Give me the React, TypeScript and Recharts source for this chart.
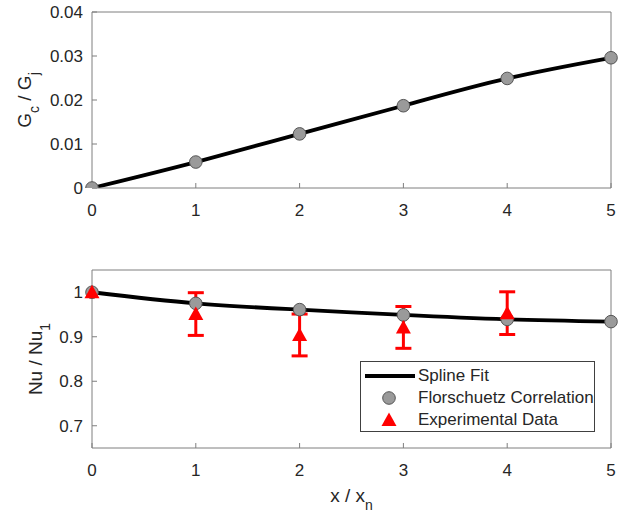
import React from "react";
import {
  ComposedChart,
  Line,
  Scatter,
  XAxis,
  YAxis,
  ErrorBar,
  Legend,
} from "recharts";

// x / x_n positions
const xPositions = [0, 1, 2, 3, 4, 5];
const xTicks = [0, 1, 2, 3, 4, 5];

// top panel: G_c / G_j
const massFluxRatio = [0, 0.0059, 0.0123, 0.0187, 0.0249, 0.0296];
const gTicks = [0, 0.01, 0.02, 0.03, 0.04];

// bottom panel: Nu / Nu_1
const nuCorrelation = [1.0, 0.975, 0.961, 0.949, 0.939, 0.934];
const expPositions = [0, 1, 2, 3, 4];
const nuExperimental = [1.0, 0.951, 0.904, 0.921, 0.953];
const nuExpError = [0, 0.048, 0.047, 0.047, 0.048];
const nuTicks = [0.7, 0.8, 0.9, 1];

const legendNames = ["Spline Fit", "Florschuetz Correlation", "Experimental Data"];

const topData = xPositions.map((x, i) => ({ x, y: massFluxRatio[i] }));
const corrData = xPositions.map((x, i) => ({ x, y: nuCorrelation[i] }));
const expData = expPositions.map((x, i) => ({
  x,
  y: nuExperimental[i],
  err: nuExpError[i],
}));

const AXIS = "#7f7f7f";
const TEXT = "#262626";
const FONT = "'Liberation Sans', Arial, Helvetica, sans-serif";
const tickStyle = { fill: TEXT, fontSize: 17 };

const GrayDot = (props: any) => (
  <circle cx={props.cx} cy={props.cy} r={6.3} fill="#9a9a9a" stroke="#555" strokeWidth={1} />
);

const RedTriangle = (props: any) => {
  const { cx, cy } = props;
  return (
    <polygon
      points={`${cx},${cy - 7.5} ${cx - 7.5},${cy + 6} ${cx + 7.5},${cy + 6}`}
      fill="#ff0000"
    />
  );
};

// rotated y title with subscripts
const YTitle = (props: any) => {
  const { viewBox, baseX, parts } = props;
  const cy = viewBox.y + viewBox.height / 2;
  const x = viewBox.x + baseX;
  return (
    <text
      x={x}
      y={cy}
      transform={`rotate(-90 ${x} ${cy})`}
      textAnchor="middle"
      fill={TEXT}
      fontSize={19}
    >
      {parts.map((p: [string, boolean], i: number) => {
        const prevSub = i > 0 && parts[i - 1][1];
        const dy = p[1] ? 8 : prevSub ? -8 : 0;
        return (
          <tspan key={i} dy={dy} fontSize={p[1] ? 14 : 19}>
            {p[0]}
          </tspan>
        );
      })}
    </text>
  );
};

const XTitle = (props: any) => {
  const { viewBox } = props;
  const cx = viewBox.x + viewBox.width / 2;
  const y = viewBox.y + 54;
  return (
    <text x={cx} y={y} textAnchor="middle" fill={TEXT} fontSize={19}>
      <tspan>{"x / x"}</tspan>
      <tspan dy={8} fontSize={14}>n</tspan>
    </text>
  );
};

const LegendBox = () => (
  <div
    style={{
      boxSizing: "border-box",
      width: 235,
      height: 71,
      border: "1px solid #404040",
      background: "#fff",
      paddingTop: 3,
      fontFamily: FONT,
      fontSize: 17,
      color: TEXT,
    }}
  >
    {legendNames.map((name, i) => (
      <div key={name} style={{ display: "flex", alignItems: "center", height: 22 }}>
        <svg width={57} height={22} style={{ flex: "none" }}>
          {i === 0 && <line x1={4} x2={54} y1={11} y2={11} stroke="#000" strokeWidth={4} />}
          {i === 1 && <GrayDot cx={28} cy={11} />}
          {i === 2 && <RedTriangle cx={28} cy={11} />}
        </svg>
        <span style={{ lineHeight: "22px", whiteSpace: "nowrap" }}>{name}</span>
      </div>
    ))}
  </div>
);

export default function App() {
  return (
    <div
      style={{
        position: "absolute",
        left: 0,
        top: 0,
        width: 624,
        height: 514,
        background: "#fff",
        fontFamily: FONT,
      }}
    >
      <div style={{ position: "absolute", left: 0, top: 0 }}>
        <ComposedChart
          width={624}
          height={240}
          data={topData}
          margin={{ top: 12, right: 13, bottom: 0, left: 0 }}
        >
          <XAxis
            dataKey="x"
            type="number"
            domain={[0, 5]}
            ticks={xTicks}
            interval={0}
            height={52}
            stroke={AXIS}
            tickSize={-5}
            tickMargin={21}
            tick={tickStyle}
          />
          <XAxis
            xAxisId="top"
            orientation="top"
            mirror
            type="number"
            domain={[0, 5]}
            ticks={xTicks}
            interval={0}
            stroke={AXIS}
            tick={false}
            tickSize={5}
          />
          <YAxis
            dataKey="y"
            type="number"
            domain={[0, 0.04]}
            ticks={gTicks}
            interval={0}
            width={92}
            stroke={AXIS}
            tickSize={-5}
            tickMargin={14}
            tick={tickStyle}
            allowDataOverflow
            label={<YTitle baseX={31} parts={[["G", false], ["c", true], [" / G", false], ["j", true]]} />}
          />
          <YAxis
            yAxisId="right"
            orientation="right"
            mirror
            type="number"
            domain={[0, 0.04]}
            ticks={gTicks}
            interval={0}
            stroke={AXIS}
            tick={false}
            tickSize={5}
          />
          <Line
            data={topData}
            dataKey="y"
            type="natural"
            stroke="#000"
            strokeWidth={3.8}
            dot={false}
            isAnimationActive={false}
          />
          <Scatter data={topData} shape={GrayDot} isAnimationActive={false} />
        </ComposedChart>
      </div>
      <div style={{ position: "absolute", left: 0, top: 240 }}>
        <ComposedChart
          width={624}
          height={274}
          data={corrData}
          margin={{ top: 30, right: 13, bottom: 0, left: 0 }}
        >
          <XAxis
            dataKey="x"
            type="number"
            domain={[0, 5]}
            ticks={xTicks}
            interval={0}
            height={66}
            stroke={AXIS}
            tickSize={-5}
            tickMargin={21}
            tick={tickStyle}
            label={<XTitle />}
          />
          <XAxis
            xAxisId="top"
            orientation="top"
            mirror
            type="number"
            domain={[0, 5]}
            ticks={xTicks}
            interval={0}
            stroke={AXIS}
            tick={false}
            tickSize={5}
          />
          <YAxis
            dataKey="y"
            type="number"
            domain={[0.65, 1.05]}
            ticks={nuTicks}
            interval={0}
            width={92}
            stroke={AXIS}
            tickSize={-5}
            tickMargin={14}
            tick={tickStyle}
            allowDataOverflow
            label={<YTitle baseX={42} parts={[["Nu / Nu", false], ["1", true]]} />}
          />
          <YAxis
            yAxisId="right"
            orientation="right"
            mirror
            type="number"
            domain={[0.65, 1.05]}
            ticks={nuTicks}
            interval={0}
            stroke={AXIS}
            tick={false}
            tickSize={5}
          />
          <Line
            data={corrData}
            dataKey="y"
            type="natural"
            stroke="#000"
            strokeWidth={3.8}
            dot={false}
            isAnimationActive={false}
          />
          <Scatter data={corrData} shape={GrayDot} isAnimationActive={false} />
          <Scatter data={expData} shape={RedTriangle} isAnimationActive={false}>
            <ErrorBar dataKey="err" direction="y" width={8} strokeWidth={3} stroke="#ff0000" />
          </Scatter>
          <Legend
            layout="vertical"
            align="center"
            verticalAlign="middle"
            width={235}
            height={71}
            wrapperStyle={{ left: 360, top: 121, width: 235, height: 71 }}
            content={() => <LegendBox />}
          />
        </ComposedChart>
      </div>
    </div>
  );
}
